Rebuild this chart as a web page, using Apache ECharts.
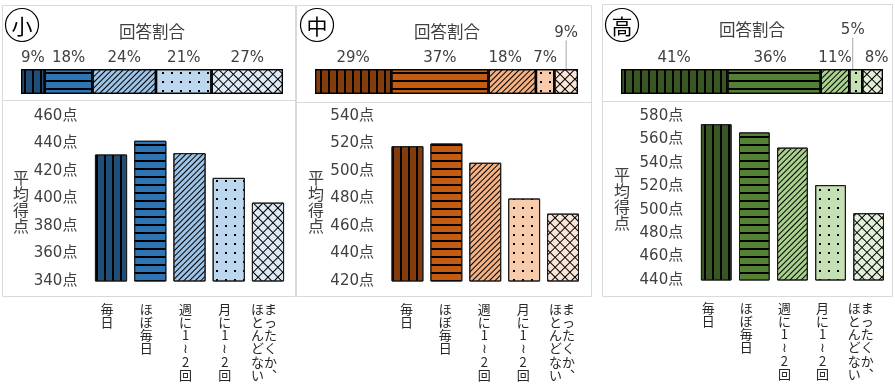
<!DOCTYPE html>
<html><head><meta charset="utf-8">
<script src="https://cdn.jsdelivr.net/npm/echarts@6/dist/echarts.min.js"></script>
<style>html,body{margin:0;padding:0;background:#fff}#c{width:895px;height:385px}</style>
</head><body><div id="c"></div>
<script>
// ---- data ----
const categories = ['毎日', 'ほぼ毎日', '週に1~2回', '月に1~2回', 'まったくか、ほとんどない'];
const panelNames = ['小', '中', '高'];
const shareTitle = '回答割合';
const scoreName = '平均得点';
const unit = '点';
const shareElem = [9, 18, 24, 21, 27];
const shareJunior = [29, 37, 18, 7, 9];
const shareHigh = [41, 36, 11, 5, 8];
const scoreElem = [432, 442, 433, 415, 397];
const scoreJunior = [518, 520, 506, 480, 469];
const scoreHigh = [573, 566, 553, 521, 497];
const ticksElem = [340, 360, 380, 400, 420, 440, 460];
const ticksJunior = [420, 440, 460, 480, 500, 520, 540];
const ticksHigh = [440, 460, 480, 500, 520, 540, 560, 580];

// ---- styles / layout ----
const palettes = [
  ['#1F4E79', '#2E75B6', '#9DC3E6', '#BDD7EE', '#DEEBF7'],
  ['#843C0C', '#C55A11', '#F4B183', '#F8CBAD', '#FBE5D6'],
  ['#385723', '#548235', '#A9D18E', '#C5E0B4', '#E2F0D9']
];
function crossRows(n) { const r = [[n, 0]]; for (let i = 1; i < n; i++) r.push([1, n - 1]); return r; }
const decals = [
  { symbol: 'rect', symbolSize: 1, symbolKeepAspect: false, color: '#000', dashArrayX: [2, 6], dashArrayY: [10, 0] },
  { symbol: 'rect', symbolSize: 1, symbolKeepAspect: false, color: '#000', dashArrayX: [10, 0], dashArrayY: [2, 6] },
  { symbol: 'rect', symbolSize: 1, symbolKeepAspect: false, color: '#000', dashArrayX: [10, 0], dashArrayY: [1, 3], rotation: -Math.PI / 4 },
  { symbol: 'rect', symbolSize: 1, symbolKeepAspect: false, color: '#000', dashArrayX: [2, 7], dashArrayY: [2, 7] },
  { symbol: 'rect', symbolSize: 1, symbolKeepAspect: false, color: '#000', dashArrayX: crossRows(7), dashArrayY: [1, 0], rotation: Math.PI / 4 }
];
const FONT = "'DejaVu Sans', 'Noto Sans CJK JP', sans-serif";
const CJK = "'Noto Sans CJK JP', sans-serif";
const TXT = '#404040';

const panels = [
  { share: shareElem, score: scoreElem, ticks: ticksElem,
    box: [2.5, 5.5, 293, 291], divider: 100.5, circle: [22, 25], title: [152, 32],
    shareGrid: { left: 21, width: 262, top: 69, height: 25 },
    grid: { left: 91.4, width: 196.2, top: 116, height: 165 }, yName: [21, 202], catShift: 8, gap: '18%',
    labelShift: {} },
  { share: shareJunior, score: scoreJunior, ticks: ticksJunior,
    box: [296.5, 5.5, 295, 291], divider: 102.5, circle: [317, 25], title: [447, 32],
    shareGrid: { left: 315, width: 263, top: 69, height: 25 },
    grid: { left: 388, width: 194.5, top: 116, height: 165 }, yName: [316, 202], catShift: 2, gap: '18%',
    labelShift: { 2: [-7, 0], 4: [0, -25] } },
  { share: shareHigh, score: scoreHigh, ticks: ticksHigh,
    box: [602.5, 4.5, 290, 292], divider: 101.5, circle: [622, 25], title: [752, 30],
    shareGrid: { left: 621, width: 262, top: 69, height: 25 },
    grid: { left: 697.2, width: 190.5, top: 116, height: 164 }, yName: [622, 199], catShift: 16, gap: '19.5%',
    labelShift: { 1: [-4, 0], 4: [4, 0], 3: [-3, -28] } }
];

function verticalLabel(s) {
  const m = s.split('、');
  if (m.length === 2) {
    const c1 = (m[0] + '︑').split(''), c2 = m[1].split('');
    const n = Math.max(c1.length, c2.length), rows = [];
    for (let i = 0; i < n; i++) rows.push((c2[i] || '\u3000') + (c1[i] || '\u3000'));
    return rows.join('\n');
  }
  return s.replace(/~/g, '≀').split('').join('\n');
}

const grids = [], xAxes = [], yAxes = [], series = [], graphics = [];
panels.forEach((p, pi) => {
  const total = p.share.reduce((a, b) => a + b, 0);
  // top share bar
  grids.push(Object.assign({ containLabel: false }, p.shareGrid));
  const gTop = grids.length - 1;
  xAxes.push({ gridIndex: gTop, type: 'value', min: 0, max: total, show: false });
  yAxes.push({ gridIndex: gTop, type: 'category', data: [shareTitle], show: false });
  p.share.forEach((v, i) => {
    const sh = p.labelShift[i];
    const s = {
      type: 'bar', stack: 'share' + pi, xAxisIndex: gTop, yAxisIndex: gTop,
      barWidth: '100%', data: [v], silent: true,
      itemStyle: { color: palettes[pi][i], borderColor: '#000', borderWidth: 1.2, decal: decals[i] },
      label: { show: true, position: 'top', distance: 3.5, formatter: '{c}%', color: TXT, fontSize: 15, fontFamily: FONT }
    };
    if (sh) {
      s.labelLayout = { dx: sh[0], dy: sh[1] };
      if (sh[1] !== 0) s.labelLine = { show: true, lineStyle: { color: '#A6A6A6', width: 1 } };
    }
    series.push(s);
  });
  // bottom score bars
  grids.push(Object.assign({ containLabel: false }, p.grid));
  const gB = grids.length - 1;
  xAxes.push({ gridIndex: gB, type: 'category', data: categories,
    axisLine: { show: false }, axisTick: { show: false },
    axisLabel: { interval: 0, margin: 21, fontSize: 13, lineHeight: 13.3, color: '#262626', fontFamily: CJK,
      padding: [0, p.catShift, 0, 0], formatter: verticalLabel } });
  yAxes.push({ gridIndex: gB, type: 'value', min: p.ticks[0], max: p.ticks[p.ticks.length - 1],
    interval: p.ticks[1] - p.ticks[0], splitLine: { show: false }, axisLine: { show: false }, axisTick: { show: false },
    axisLabel: { margin: 14, fontSize: 15, color: TXT, fontFamily: FONT, formatter: v => v + unit } });
  series.push({
    type: 'bar', xAxisIndex: gB, yAxisIndex: gB, barCategoryGap: p.gap, silent: true,
    data: p.score.map((v, i) => ({ value: v, itemStyle: { color: palettes[pi][i], borderColor: '#1a1a1a', borderWidth: 1, decal: decals[i] } }))
  });
  // decorations
  const b = p.box;
  graphics.push({ type: 'rect', shape: { x: b[0], y: b[1], width: b[2], height: b[3] }, style: { fill: null, stroke: '#D9D9D9', lineWidth: 1 }, silent: true });
  graphics.push({ type: 'line', shape: { x1: b[0], y1: p.divider, x2: b[0] + b[2], y2: p.divider }, style: { stroke: '#D9D9D9', lineWidth: 1 }, silent: true });
  graphics.push({ type: 'circle', shape: { cx: p.circle[0], cy: p.circle[1], r: 16.5 }, style: { fill: '#fff', stroke: '#000', lineWidth: 1.2 }, silent: true });
  graphics.push({ type: 'text', x: p.circle[0], y: p.circle[1] + 1, style: { text: panelNames[pi], fontSize: 21, fontFamily: CJK, fill: '#000', align: 'center', verticalAlign: 'middle' }, silent: true });
  graphics.push({ type: 'text', x: p.title[0], y: p.title[1], style: { text: shareTitle, fontSize: 16.5, fontFamily: CJK, fill: TXT, align: 'center', verticalAlign: 'middle' }, silent: true });
  graphics.push({ type: 'text', x: p.yName[0], y: p.yName[1], style: { text: scoreName.split('').join('\n'), fontSize: 16, lineHeight: 16, fontFamily: CJK, fill: TXT, align: 'center', verticalAlign: 'middle' }, silent: true });
});

const chart = echarts.init(document.getElementById('c'), null, { renderer: 'canvas' });
chart.setOption({
  animation: false,
  backgroundColor: '#fff',
  grid: grids, xAxis: xAxes, yAxis: yAxes, series: series,
  graphic: { elements: graphics }
});
</script></body></html>
